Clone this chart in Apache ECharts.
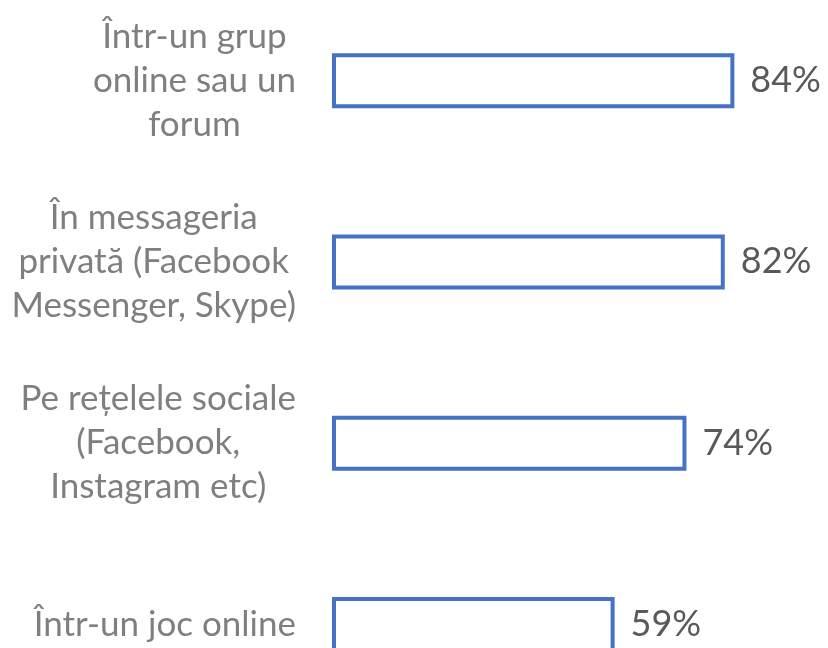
<!DOCTYPE html>
<html>
<head>
<meta charset="utf-8">
<script src="https://cdn.jsdelivr.net/npm/echarts@6/dist/echarts.min.js"></script>
<style>
  html, body { margin: 0; padding: 0; background: #fff; }
  #main { width: 828px; height: 648px; }
</style>
</head>
<body>
<div id="main"></div>
<script>
var categories = [
  'Într-un grup\nonline sau un\nforum',
  'În messageria\nprivată (Facebook\nMessenger, Skype)',
  'Pe rețelele sociale\n(Facebook,\nInstagram etc)',
  'Într-un joc online'
]
var values = [84, 82, 74, 59]

var myChart = echarts.init(document.getElementById('main'))
var option = {
  animation: false,
  grid: {
    left: 332,
    width: 479,
    top: -10,
    height: 725,
    outerBoundsMode: 'none',
    containLabel: false
  },
  xAxis: {
    type: 'value',
    min: 0,
    max: 100,
    show: false
  },
  yAxis: {
    type: 'category',
    inverse: true,
    data: categories,
    axisLine: { show: false },
    axisTick: { show: false },
    axisLabel: {
      margin: 36,
      align: 'right',
      // each line centred inside a right-aligned block
      formatter: function (v) {
        return v.split('\n').map(function (s) { return '{c|' + s + '}' }).join('\n')
      },
      rich: {
        c: {
          align: 'center',
          color: '#7f7f7f',
          fontFamily: 'Lato',
          fontSize: 35,
          lineHeight: 44
        }
      }
    }
  },
  series: [{
    type: 'bar',
    data: values,
    barWidth: 55,
    itemStyle: {
      color: '#ffffff',
      borderColor: '#4472C4',
      borderWidth: 4
    },
    label: {
      show: true,
      position: 'right',
      distance: 16,
      formatter: '{c}%',
      color: '#595959',
      fontFamily: 'Lato',
      fontSize: 36
    }
  }]
}
myChart.setOption(option)
</script>
</body>
</html>
